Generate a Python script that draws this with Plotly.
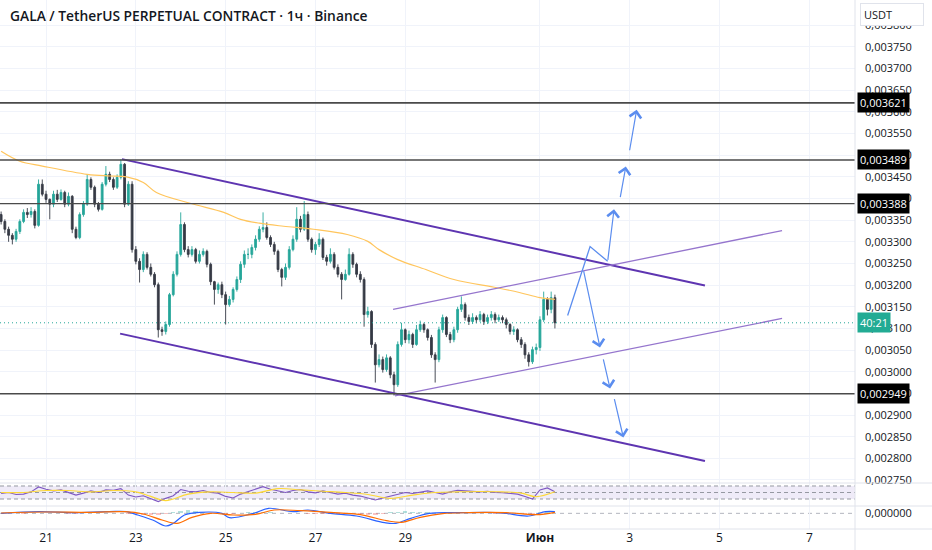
import pandas as pd
import plotly.graph_objects as go
from plotly.subplots import make_subplots

SCALE = 1e-6  # prices below are in millionths of USDT
BASE = pd.Timestamp("2025-05-20 00:00")

# ---- 2h candles (price * 1e6) ----
candle_open = [3363, 3347, 3329, 3315, 3306, 3324, 3347, 3368, 3363, 3370, 3338,
               3433, 3410, 3398, 3387, 3410, 3398, 3414, 3387, 3405, 3329, 3310, 3363,
               3387, 3444, 3426, 3387, 3375, 3433, 3456, 3444, 3426, 3449, 3479, 3387,
               3433, 3282, 3255, 3236, 3271, 3241, 3225, 3201, 3097, 3093, 3109, 3178,
               3225, 3271, 3340, 3282, 3271, 3282, 3255, 3271, 3278, 3248, 3208, 3190,
               3201, 3178, 3155, 3167, 3190, 3213, 3248, 3271, 3271, 3287, 3306, 3329,
               3333, 3310, 3294, 3278, 3236, 3218, 3241, 3282, 3306, 3352, 3329, 3363,
               3306, 3282, 3294, 3306, 3264, 3255, 3271, 3241, 3225, 3213, 3225, 3271,
               3248, 3225, 3213, 3132, 3139, 3063, 3016, 3028, 3005, 3032, 2993, 2970,
               3063, 3097, 3074, 3086, 3063, 3097, 3109, 3097, 3079, 3039, 3028, 3097,
               3125, 3086, 3074, 3097, 3144, 3155, 3125, 3116, 3125, 3120, 3132, 3116,
               3125, 3132, 3120, 3125, 3120, 3109, 3093, 3097, 3074, 3063, 3039, 3023,
               3051, 3056, 3120, 3167, 3144, 3171]
candle_high = [3370, 3352, 3335, 3320, 3330, 3352, 3375, 3378, 3380, 3375, 3444,
               3444, 3418, 3400, 3418, 3420, 3421, 3418, 3414, 3408, 3335, 3368, 3394,
               3456, 3449, 3430, 3392, 3438, 3475, 3462, 3449, 3456, 3491, 3482, 3440,
               3440, 3290, 3262, 3278, 3276, 3250, 3230, 3206, 3104, 3116, 3182, 3232,
               3278, 3368, 3345, 3290, 3290, 3286, 3280, 3285, 3282, 3252, 3210, 3206,
               3208, 3185, 3175, 3195, 3220, 3255, 3280, 3285, 3294, 3315, 3336, 3368,
               3345, 3315, 3300, 3282, 3240, 3250, 3290, 3315, 3380, 3360, 3394, 3370,
               3310, 3300, 3320, 3310, 3270, 3285, 3276, 3248, 3230, 3236, 3285, 3276,
               3252, 3232, 3218, 3150, 3142, 3068, 3040, 3035, 3040, 3036, 3000, 3070,
               3113, 3100, 3095, 3090, 3108, 3118, 3113, 3100, 3085, 3045, 3104, 3132,
               3128, 3092, 3104, 3150, 3174, 3160, 3132, 3135, 3130, 3140, 3136, 3132,
               3140, 3137, 3132, 3130, 3125, 3112, 3105, 3100, 3080, 3068, 3045, 3058,
               3065, 3128, 3185, 3172, 3185, 3178]
candle_low = [3340, 3320, 3300, 3294, 3300, 3318, 3343, 3355, 3356, 3331, 3335,
              3405, 3390, 3352, 3380, 3392, 3395, 3380, 3382, 3320, 3306, 3306, 3358,
              3383, 3420, 3380, 3370, 3372, 3428, 3438, 3420, 3422, 3444, 3380, 3383,
              3275, 3248, 3206, 3230, 3236, 3220, 3195, 3079, 3083, 3086, 3104, 3174,
              3220, 3266, 3276, 3264, 3266, 3250, 3250, 3266, 3241, 3200, 3155, 3180,
              3170, 3109, 3150, 3160, 3185, 3205, 3240, 3260, 3262, 3280, 3300, 3322,
              3305, 3288, 3270, 3230, 3197, 3212, 3236, 3278, 3300, 3322, 3325, 3300,
              3275, 3270, 3288, 3258, 3245, 3250, 3236, 3218, 3167, 3210, 3222, 3240,
              3218, 3206, 3104, 3125, 3055, 2975, 3010, 2998, 3000, 2985, 2945, 2965,
              3058, 3066, 3065, 3055, 3060, 3092, 3090, 3072, 3032, 2975, 3022, 3090,
              3080, 3066, 3068, 3090, 3138, 3118, 3108, 3110, 3112, 3115, 3108, 3110,
              3118, 3112, 3115, 3112, 3100, 3086, 3085, 3068, 3055, 3030, 3012, 3018,
              3040, 3048, 3115, 3130, 3135, 3100]
candle_close = [3347, 3329, 3315, 3306, 3324, 3347, 3368, 3363, 3370, 3338, 3433,
                3410, 3398, 3387, 3410, 3398, 3414, 3387, 3405, 3329, 3310, 3363, 3387,
                3444, 3426, 3387, 3375, 3433, 3456, 3444, 3426, 3449, 3479, 3387, 3433,
                3282, 3255, 3236, 3271, 3241, 3225, 3201, 3097, 3093, 3109, 3178, 3225,
                3271, 3340, 3282, 3271, 3282, 3255, 3271, 3278, 3248, 3208, 3190, 3201,
                3178, 3155, 3167, 3190, 3213, 3248, 3271, 3271, 3287, 3306, 3329, 3333,
                3310, 3294, 3278, 3236, 3218, 3241, 3282, 3306, 3352, 3329, 3363, 3306,
                3282, 3294, 3306, 3264, 3255, 3271, 3241, 3225, 3213, 3225, 3271, 3248,
                3225, 3213, 3132, 3139, 3063, 3016, 3028, 3005, 3032, 2993, 2970, 3063,
                3097, 3074, 3086, 3063, 3097, 3109, 3097, 3079, 3039, 3028, 3097, 3125,
                3086, 3074, 3097, 3144, 3155, 3125, 3116, 3125, 3120, 3132, 3116, 3125,
                3132, 3120, 3125, 3120, 3109, 3093, 3097, 3074, 3063, 3039, 3023, 3051,
                3056, 3120, 3167, 3144, 3171, 3113]

# ---- moving average on price (hours since BASE, price*1e6) ----
ma_hours = [0, 10, 22, 46, 58, 67, 76, 83, 101, 119, 128, 138, 151, 167, 185, 196,
            202, 212, 227, 242, 265, 277, 288, 296]
ma_values = [3509, 3486, 3475, 3456, 3452, 3450, 3437, 3414, 3389, 3368, 3352, 3343,
             3336, 3329, 3317, 3301, 3282, 3259, 3236, 3213, 3194, 3183, 3171, 3167]

# ---- RSI pane ----
rsi_hours = list(range(0, 297, 4))
rsi_values = [47, 50, 44, 45, 52, 67, 60, 55, 58, 50,
              42, 48, 55, 50, 58, 57, 62, 42, 36, 40,
              30, 22, 32, 40, 59, 54, 52, 56, 50, 48,
              38, 33, 45, 52, 60, 68, 60, 55, 50, 56,
              59, 52, 49, 55, 50, 45, 48, 42, 39, 32,
              27, 33, 38, 44, 50, 47, 52, 55, 50, 45,
              52, 57, 55, 53, 52, 54, 50, 49, 47, 45,
              38, 30, 58, 64, 52]
rsi_ma_hours = [0, 12, 24, 36, 48, 60, 72, 80, 88, 100, 112, 124, 136, 148, 160, 172,
                184, 196, 208, 220, 232, 244, 256, 268, 278, 286, 296]
rsi_ma_values = [50, 50, 56, 56, 52, 56, 52, 38, 25, 45, 52, 50, 48, 62, 58, 54,
                 50, 44, 32, 42, 50, 52, 53, 52, 48, 37, 52]
rsi_levels = [70, 50, 30]

# ---- MACD pane (values * 1e6) ----
macd_hours = [0, 20, 41, 61, 67, 73, 81, 88, 92, 98, 106, 118, 122, 135, 143, 156,
              164, 176, 190, 205, 211, 219, 229, 245, 266, 282, 291, 296]
macd_values = [0, 5, 2, 6, 5, -5, -20, -38, -30, -5, 3, 0, -13, 0, 15, 5,
               10, 0, -8, -28, -30, -15, 0, 2, 2, -8, 5, 5]
signal_hours = [0, 24, 48, 66, 76, 86, 94, 102, 112, 124, 136, 146, 160, 176, 192,
                206, 214, 224, 236, 250, 270, 286, 296]
signal_values = [1, 4, 3, 5, -2, -20, -30, -12, 0, -5, -3, 10, 8, 3, -4,
                 -22, -27, -12, -1, 2, 2, -4, 3]
hist_hours = list(range(0, 297, 4))
hist_values = [0, 1, 1, -1, 0, 2, 1, 0, 1, -1,
               -1, 0, 1, 0, 1, 1, 1, -2, -3, -4,
               -5, -6, -3, 4, 8, 9, 6, 4, 2, 1,
               -2, -3, 1, 3, 4, 5, 3, 1, 0, 1,
               1, -1, -1, -1, -2, -2, -2, -3, -3, -4,
               -4, -2, 3, 5, 6, 5, 4, 3, 2, 1,
               1, 1, 0, 0, 0, 0, -1, -1, -1, -2,
               -3, -1, 4, 4, 2]

# ---- drawings ----
level_prices = [3621, 3489, 3388, 2949]
level_widths = [1.6, 1.6, 1.2, 1.6]
current_price = 3113
countdown_text = "40:21"

trend_start_h = [64.6, 63.6, 209.5, 210.5]
trend_start_p = [3491, 3088, 3144, 2944]
trend_end_h = [376.2, 376.2, 417.4, 417.4]
trend_end_p = [3199, 2794, 3326, 3123]
trend_colors = ["#5e35b1", "#5e35b1", "#9575cd", "#9575cd"]
trend_widths = [2, 2, 1.3, 1.3]

path_h = [302.8, 314.8, 324.2]
path_p = [3130, 3289, 3255]
arrow_tail_h = [324.2, 330.8, 335.8, 311.2, 321.7, 327.6]
arrow_tail_p = [3255, 3400, 3508, 3236, 3032, 2940]
arrow_head_h = [327.6, 333.9, 339.7, 320.1, 325.5, 332.6]
arrow_head_p = [3375, 3474, 3605, 3056, 2961, 2848]

x_tick_dates = ["2025-05-21", "2025-05-23", "2025-05-25", "2025-05-27", "2025-05-29",
                "2025-06-01", "2025-06-03", "2025-06-05", "2025-06-07"]
x_tick_text = ["21", "23", "25", "27", "29", "<b>Июн</b>", "3", "5", "7"]
price_ticks = list(range(2750, 3801, 50))
x_range_hours = [-0.6, 456.4]

FONT = "Open Sans"
TEXT = "#131722"
GRID = "#f0f3fa"
BORDER = "#e0e3eb"


def t(hours):
    return BASE + pd.to_timedelta(hours, unit="h")


def ts(h):
    return t(h).round("s").strftime("%Y-%m-%d %H:%M:%S")


def sc(vals):
    return [v * SCALE for v in vals]


def fmt(v):
    return f"{v * SCALE:.6f}".replace(".", ",")


fig = make_subplots(rows=3, cols=1, shared_xaxes=True, vertical_spacing=0,
                    row_heights=[483, 23, 23])

candle_times = pd.date_range(BASE, periods=len(candle_close), freq="2h")
fig.add_trace(go.Candlestick(
    x=candle_times, open=sc(candle_open), high=sc(candle_high),
    low=sc(candle_low), close=sc(candle_close),
    increasing=dict(line=dict(color="#26a69a", width=0.9), fillcolor="#26a69a"),
    decreasing=dict(line=dict(color="#363a45", width=0.9), fillcolor="#363a45"),
    whiskerwidth=0, hoverinfo="skip"), row=1, col=1)

fig.add_trace(go.Scatter(x=t(ma_hours), y=sc(ma_values), mode="lines",
                         line=dict(color="#ffc55c", width=1.2, shape="spline"),
                         hoverinfo="skip"), row=1, col=1)

for h0, p0, h1, p1, c, w in zip(trend_start_h, trend_start_p, trend_end_h,
                                 trend_end_p, trend_colors, trend_widths):
    fig.add_trace(go.Scatter(x=t([h0, h1]), y=sc([p0, p1]), mode="lines",
                             line=dict(color=c, width=w), hoverinfo="skip"),
                  row=1, col=1)

ARROW = "#5b8def"
fig.add_trace(go.Scatter(x=t(path_h), y=sc(path_p), mode="lines",
                         line=dict(color=ARROW, width=1.3), hoverinfo="skip"),
              row=1, col=1)
for th, tp, hh, hp in zip(arrow_tail_h, arrow_tail_p, arrow_head_h, arrow_head_p):
    fig.add_annotation(x=ts(hh), y=hp * SCALE, ax=ts(th), ay=tp * SCALE,
                       xref="x", yref="y", axref="x", ayref="y", text="",
                       showarrow=True, arrowhead=4, arrowsize=1.9,
                       arrowwidth=1.2, arrowcolor=ARROW)

# levels
for p, w in zip(level_prices, level_widths):
    fig.add_hline(y=p * SCALE, row=1, col=1, exclude_empty_subplots=False,
                  line=dict(color="#4a4a4a", width=w))
    fig.add_annotation(x=1, xref="paper", xanchor="left", xshift=2,
                       y=p * SCALE, yref="y", text=fmt(p), showarrow=False,
                       bgcolor="#000000", borderpad=2,
                       font=dict(family=FONT, size=11, color="#ffffff"))

fig.add_hline(y=current_price * SCALE, row=1, col=1, exclude_empty_subplots=False,
              line=dict(color="#26a69a", width=1, dash="1px,3px"))
fig.add_annotation(x=1, xref="paper", xanchor="left", xshift=2,
                   y=current_price * SCALE, yref="y", text=countdown_text,
                   showarrow=False, bgcolor="#22ab94", borderpad=2,
                   font=dict(family=FONT, size=11, color="#ffffff"))

# RSI
fig.add_trace(go.Scatter(x=t(rsi_hours), y=rsi_values, mode="lines",
                         line=dict(color="#7e57c2", width=1.1),
                         hoverinfo="skip"), row=2, col=1)
fig.add_trace(go.Scatter(x=t(rsi_ma_hours), y=rsi_ma_values, mode="lines",
                         line=dict(color="#fdd835", width=1.1, shape="spline"),
                         hoverinfo="skip"), row=2, col=1)
fig.add_hrect(y0=30, y1=70, row=2, col=1, fillcolor="rgba(126,87,194,0.12)",
              line_width=0, layer="below", exclude_empty_subplots=False)
for lv in rsi_levels:
    fig.add_hline(y=lv, row=2, col=1, exclude_empty_subplots=False,
                  line=dict(color="#9598a1", width=1, dash="4px,3px"),
                  layer="below")

# MACD
fig.add_trace(go.Bar(x=t(hist_hours), y=sc(hist_values),
                     marker=dict(color=["rgba(38,166,154,0.35)" if v >= 0
                                        else "rgba(239,83,80,0.35)"
                                        for v in hist_values], line_width=0),
                     width=4 * 3600 * 1000 * 0.6, hoverinfo="skip"),
              row=3, col=1)
fig.add_trace(go.Scatter(x=t(macd_hours), y=sc(macd_values), mode="lines",
                         line=dict(color="#2962ff", width=1.2, shape="spline"),
                         hoverinfo="skip"), row=3, col=1)
fig.add_trace(go.Scatter(x=t(signal_hours), y=sc(signal_values), mode="lines",
                         line=dict(color="#ff6d00", width=1.2, shape="spline"),
                         hoverinfo="skip"), row=3, col=1)
fig.add_hline(y=0, row=3, col=1, exclude_empty_subplots=False, layer="below",
              line=dict(color="#b2b5be", width=1, dash="4px,4px"))

# axes
xr = [ts(x_range_hours[0]), ts(x_range_hours[1])]
fig.update_xaxes(type="date", range=xr, tickvals=x_tick_dates, ticktext=x_tick_text,
                 showgrid=True, gridcolor=GRID, gridwidth=1, zeroline=False,
                 showline=False, ticks="", rangeslider_visible=False,
                 tickfont=dict(family=FONT, size=12, color=TEXT))
fig.update_yaxes(side="right", zeroline=False, showline=False, ticks="")
fig.update_yaxes(row=1, col=1, range=[0.002743, 0.0038585],
                 tickvals=sc(price_ticks), tickformat=".6f",
                 showgrid=True, gridcolor=GRID, ticklabelstandoff=9,
                 tickfont=dict(family=FONT, size=11, color=TEXT))
fig.update_yaxes(row=2, col=1, range=[8.5, 79.2], showgrid=False,
                 showticklabels=False)
fig.update_yaxes(row=3, col=1, range=[-47e-6, 22e-6], tickvals=[0],
                 tickformat=".6f", showgrid=False, ticklabelstandoff=9,
                 tickfont=dict(family=FONT, size=11, color=TEXT))

# pane separators and right border
xmax = 932 / 855
for yb in [46 / 529, 23 / 529, 0]:
    fig.add_shape(type="line", xref="paper", yref="paper", x0=0, x1=xmax,
                  y0=yb, y1=yb, line=dict(color=BORDER, width=1))
fig.add_shape(type="line", xref="paper", yref="paper", x0=1, x1=1,
              y0=-21 / 529, y1=1, line=dict(color=BORDER, width=1))

# title and currency box
fig.add_annotation(x=0, xref="paper", xanchor="left", xshift=8,
                   y=1, yref="paper", yanchor="top", yshift=-4,
                   text="GALA / TetherUS PERPETUAL CONTRACT · 1ч · Binance",
                   showarrow=False,
                   font=dict(family=FONT, size=13.8, color=TEXT, weight=600))
fig.add_annotation(x=1, xref="paper", xanchor="left", xshift=5,
                   y=1, yref="paper", yanchor="top", yshift=-3,
                   text="USDT", showarrow=False, align="left", width=56,
                   bgcolor="#ffffff", bordercolor=BORDER, borderwidth=1,
                   borderpad=3, font=dict(family=FONT, size=11, color=TEXT))

fig.update_layout(width=932, height=550, margin=dict(l=0, r=77, t=0, b=21),
                  paper_bgcolor="#ffffff", plot_bgcolor="#ffffff",
                  showlegend=False, hovermode=False, dragmode=False,
                  separators=", ", bargap=0)

fig.write_html("out.html", config={"displayModeBar": False},
               post_script="document.body.style.margin='0';"
                           "document.body.style.padding='0';"
                           "document.body.style.overflow='hidden';")
